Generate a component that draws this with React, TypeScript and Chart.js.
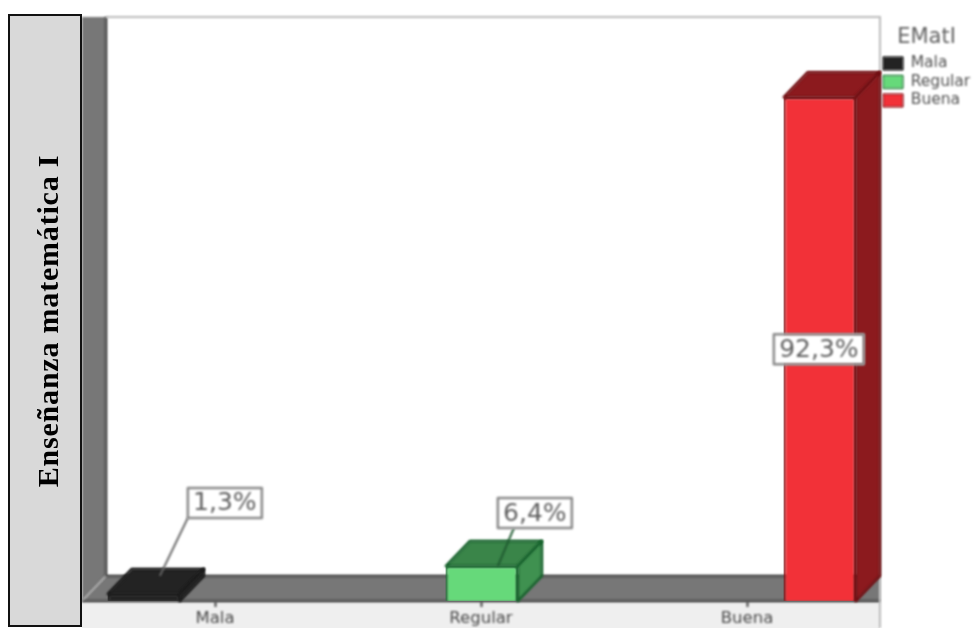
import React, { useEffect, useRef } from "react";
import { Chart, registerables } from "chart.js";

Chart.register(...registerables);

const categories = ["Mala", "Regular", "Buena"];
const values = [1.3, 6.4, 92.3];
const valueLabels = ["1,3%", "6,4%", "92,3%"];
const frontColors = ["#232323", "#66d97a", "#f23138"];
const edgeColors = ["#1a1a1a", "#14602a", "#6e0c10"];
const topColors = ["#232323", "#3a8549", "#8c1a1e"];
const sideColors = ["#232323", "#3f9150", "#8c1a1e"];
const yTitle = "Enseñanza matemática I";
const legendTitle = "EMatI";

const DX = 24;
const DY = -25;

const scene = {
  id: "scene",
  beforeDraw(chart: any) {
    const { ctx } = chart;
    ctx.filter = "blur(0.9px)";
  },
  beforeDatasetsDraw(chart: any) {
    const { ctx, chartArea: a } = chart;
    ctx.save();
    // left wall
    ctx.fillStyle = "#777777";
    ctx.beginPath();
    ctx.moveTo(a.left, a.top);
    ctx.lineTo(a.left + DX, a.top);
    ctx.lineTo(a.left + DX, a.bottom + DY);
    ctx.lineTo(a.left, a.bottom);
    ctx.closePath();
    ctx.fill();
    // floor
    ctx.beginPath();
    ctx.moveTo(a.left, a.bottom);
    ctx.lineTo(a.left + DX, a.bottom + DY);
    ctx.lineTo(a.right, a.bottom + DY);
    ctx.lineTo(a.right, a.bottom);
    ctx.closePath();
    ctx.fill();
    // edges
    ctx.strokeStyle = "#444444";
    ctx.lineWidth = 2.5;
    ctx.beginPath();
    ctx.moveTo(a.left + DX, a.top);
    ctx.lineTo(a.left + DX, a.bottom + DY);
    ctx.lineTo(a.right, a.bottom + DY);
    ctx.moveTo(a.left, a.bottom);
    ctx.lineTo(a.right, a.bottom);
    ctx.stroke();
    ctx.strokeStyle = "#999999";
    ctx.lineWidth = 1.5;
    ctx.beginPath();
    ctx.moveTo(a.left, a.bottom);
    ctx.lineTo(a.left + DX, a.bottom + DY);
    ctx.stroke();
    // frame
    ctx.strokeStyle = "#bbbbbb";
    ctx.lineWidth = 2;
    ctx.beginPath();
    ctx.moveTo(a.left + DX, a.top);
    ctx.lineTo(a.right, a.top);
    ctx.lineTo(a.right, chart.height);
    ctx.stroke();
    ctx.restore();
  },
  afterDatasetsDraw(chart: any) {
    const { ctx } = chart;
    const meta = chart.getDatasetMeta(0);
    const offsets = [
      { x: 81, y: -91, fromX: -37, toX: 16, toY: -18 },
      { x: 53, y: -53, fromX: -21, toX: 16, toY: 0 },
      { x: -1, y: 252, fromX: 0, toX: 0, toY: 0 },
    ];
    ctx.save();
    meta.data.forEach((bar: any, i: number) => {
      const w = bar.width / 2;
      const l = bar.x - w;
      const r = bar.x + w;
      const t = bar.y;
      const b = bar.base;
      ctx.lineWidth = 2.5;
      ctx.lineJoin = "round";
      ctx.strokeStyle = edgeColors[i];
      ctx.fillStyle = topColors[i];
      ctx.beginPath();
      ctx.moveTo(l, t);
      ctx.lineTo(l + DX, t + DY);
      ctx.lineTo(r + DX, t + DY);
      ctx.lineTo(r, t);
      ctx.closePath();
      ctx.fill();
      ctx.stroke();
      ctx.fillStyle = sideColors[i];
      ctx.beginPath();
      ctx.moveTo(r, t);
      ctx.lineTo(r + DX, t + DY);
      ctx.lineTo(r + DX, b + DY);
      ctx.lineTo(r, b);
      ctx.closePath();
      ctx.fill();
      ctx.stroke();
    });
    meta.data.forEach((bar: any, i: number) => {
      const o = offsets[i];
      const cx = bar.x + o.x;
      const cy = bar.y + o.y;
      const bw = i === 2 ? 90 : 74;
      const bh = 30;
      if (i < 2) {
        ctx.strokeStyle = i === 1 ? "#1f5a30" : "#666666";
        ctx.lineWidth = 2;
        ctx.beginPath();
        ctx.moveTo(cx + o.fromX, cy + bh / 2);
        ctx.lineTo(bar.x + o.toX, bar.y + o.toY);
        ctx.stroke();
      }
      ctx.fillStyle = "#ffffff";
      ctx.strokeStyle = "#8a8a8a";
      ctx.lineWidth = 2.5;
      ctx.fillRect(cx - bw / 2, cy - bh / 2, bw, bh);
      ctx.strokeRect(cx - bw / 2, cy - bh / 2, bw, bh);
      ctx.fillStyle = "#606060";
      ctx.font = "25px 'DejaVu Sans'";
      ctx.textAlign = "center";
      ctx.textBaseline = "middle";
      ctx.fillText(valueLabels[i], cx, cy + 1);
    });
    ctx.restore();
  },
  afterDraw(chart: any) {
    const { ctx } = chart;
    ctx.filter = "none";
    ctx.save();
    ctx.fillStyle = "#d9d9d9";
    ctx.strokeStyle = "#111111";
    ctx.lineWidth = 2;
    ctx.fillRect(9, 15, 72, 611);
    ctx.strokeRect(9, 15, 72, 611);
    ctx.translate(50, 321);
    ctx.rotate(-Math.PI / 2);
    ctx.fillStyle = "#000000";
    ctx.font = "bold 30px 'Liberation Serif'";
    (ctx as any).letterSpacing = "0.8px";
    ctx.textAlign = "center";
    ctx.textBaseline = "middle";
    ctx.fillText(yTitle, 0, 0);
    ctx.restore();
  },
};

export default function App() {
  const ref = useRef<HTMLCanvasElement | null>(null);
  useEffect(() => {
    document.body.style.margin = "0";
    document.body.style.background = "#ffffff";
    const chart = new Chart(ref.current as HTMLCanvasElement, {
      type: "bar",
      data: {
        labels: categories,
        datasets: [
          {
            label: legendTitle,
            data: values.map((v, i) => ({ x: i, y: v })),
            xAxisID: "barX",
            yAxisID: "y",
            backgroundColor: frontColors,
            borderColor: edgeColors,
            borderWidth: 2,
            barThickness: 72,
            grouped: false,
          } as any,
        ],
      },
      options: {
        responsive: false,
        animation: false,
        devicePixelRatio: 1,
        layout: { padding: { left: 82, top: 17, right: 0, bottom: 0 } },
        plugins: {
          tooltip: { enabled: false },
          legend: {
            position: "right",
            align: "start",
            maxWidth: 93,
            title: {
              display: true,
              text: legendTitle,
              color: "#606060",
              font: { family: "DejaVu Sans", size: 21 },
              padding: { top: 10, bottom: 0.5 },
            },
            labels: {
              boxWidth: 20,
              boxHeight: 13,
              padding: 3,
              color: "#505050",
              font: { family: "DejaVu Sans", size: 15.5 },
              generateLabels: () =>
                categories.map((c, i) => ({
                  text: c,
                  fillStyle: frontColors[i],
                  strokeStyle: edgeColors[i],
                  lineWidth: 1,
                  hidden: false,
                  index: i,
                  fontColor: "#505050",
                })),
            },
          },
        },
        scales: {
          x: {
            type: "category",
            labels: categories,
            offset: true,
            position: "bottom",
            z: 2,
            grid: { display: true, drawOnChartArea: false, drawTicks: true, tickLength: 6, tickColor: "#444444", tickWidth: 2, offset: false },
            border: { display: false },
            ticks: { color: "#4a4a4a", font: { family: "DejaVu Sans", size: 16.5 }, padding: 2, maxRotation: 0 },
            afterFit(scale: any) {
              scale.height = 27;
            },
          },
          barX: { type: "linear", display: false, min: -0.183, max: 2.178, offset: false },
          y: { type: "linear", display: false, min: 0, max: 107 },
        },
      } as any,
      plugins: [
        {
          id: "band",
          beforeDraw(chart: any) {
            const a = chart.chartArea;
            chart.ctx.save();
            chart.ctx.fillStyle = "#efefef";
            chart.ctx.fillRect(a.left, a.bottom, a.right - a.left, chart.height - a.bottom);
            chart.ctx.restore();
          },
        },
        scene,
      ],
    });
    return () => chart.destroy();
  }, []);
  return (
    <div style={{ position: "fixed", left: 0, top: 0, width: 973, height: 628 }}>
      <canvas ref={ref} width={973} height={628} style={{ display: "block", width: 973, height: 628 }} />
    </div>
  );
}
